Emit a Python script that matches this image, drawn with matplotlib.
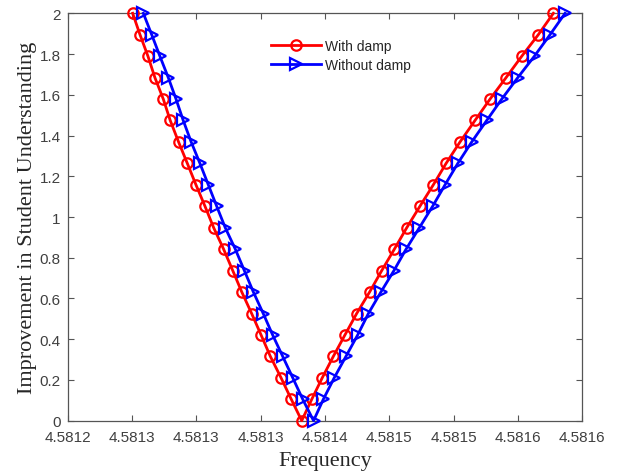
import matplotlib
matplotlib.use("Agg")
import matplotlib.pyplot as plt

# Improvement levels (y) shared by both series: down the left branch, up the right branch
improvement = [2.000, 1.895, 1.789, 1.684, 1.579, 1.474, 1.368, 1.263, 1.158, 1.053,
               0.947, 0.842, 0.737, 0.632, 0.526, 0.421, 0.316, 0.211, 0.105, 0.000,
               0.105, 0.211, 0.316, 0.421, 0.526, 0.632, 0.737, 0.842, 0.947, 1.053,
               1.158, 1.263, 1.368, 1.474, 1.579, 1.684, 1.789, 1.895, 2.000]

freq_with_damp = [4.5812505, 4.5812562, 4.5812624, 4.5812678, 4.5812743, 4.5812797,
                  4.5812862, 4.5812930, 4.5812997, 4.5813067, 4.5813135, 4.5813212,
                  4.5813283, 4.5813353, 4.5813430, 4.5813503, 4.5813575, 4.5813658,
                  4.5813738, 4.5813819,
                  4.5813897, 4.5813979, 4.5814065, 4.5814155, 4.5814246, 4.5814347,
                  4.5814441, 4.5814539, 4.5814635, 4.5814738, 4.5814842, 4.5814941,
                  4.5815049, 4.5815166, 4.5815283, 4.5815407, 4.5815529, 4.5815658,
                  4.5815775]

freq_without_damp = [4.5812588, 4.5812653, 4.5812717, 4.5812782, 4.5812842, 4.5812898,
                     4.5812960, 4.5813028, 4.5813093, 4.5813158, 4.5813225, 4.5813303,
                     4.5813373, 4.5813443, 4.5813520, 4.5813593, 4.5813671, 4.5813749,
                     4.5813827, 4.5813911,
                     4.5813987, 4.5814072, 4.5814163, 4.5814254, 4.5814337, 4.5814435,
                     4.5814536, 4.5814630, 4.5814733, 4.5814837, 4.5814933, 4.5815032,
                     4.5815140, 4.5815257, 4.5815374, 4.5815498, 4.5815627, 4.5815749,
                     4.5815866]

series_labels = ["With damp", "Without damp"]

x_ticks = [4.58120, 4.58125, 4.58130, 4.58135, 4.58140, 4.58145, 4.58150, 4.58155, 4.58160]
x_tick_labels = ["4.5812", "4.5813", "4.5813", "4.5813", "4.5814",
                 "4.5815", "4.5815", "4.5816", "4.5816"]
y_ticks = [0, 0.2, 0.4, 0.6, 0.8, 1.0, 1.2, 1.4, 1.6, 1.8, 2.0]
y_tick_labels = ["0", "0.2", "0.4", "0.6", "0.8", "1", "1.2", "1.4", "1.6", "1.8", "2"]

fig = plt.figure(figsize=(6.18, 4.77), dpi=100)
ax = fig.add_axes([67.7 / 618, 1 - 421.7 / 477, (582.3 - 67.7) / 618, (421.7 - 14.3) / 477])

ax.plot(freq_with_damp, improvement, color="#FF0000", lw=2.0, marker="o", ms=7.5,
        mfc="none", mec="#FF0000", mew=1.6, label=series_labels[0], clip_on=False, zorder=3)
ax.plot(freq_without_damp, improvement, color="#0000FF", lw=2.0, marker=">", ms=8,
        mfc="none", mec="#0000FF", mew=1.6, label=series_labels[1], clip_on=False, zorder=3)

ax.set_xlim(x_ticks[0], x_ticks[-1])
ax.set_ylim(0, 2)
ax.set_xticks(x_ticks)
ax.set_xticklabels(x_tick_labels)
ax.set_yticks(y_ticks)
ax.set_yticklabels(y_tick_labels)

tick_color = "#404040"
for s in ax.spines.values():
    s.set_color("#555555")
    s.set_linewidth(0.9)
ax.tick_params(direction="in", length=4.5, width=0.8, color="#555555",
               top=True, right=True, labelsize=11, labelcolor=tick_color)
ax.tick_params(axis="x", pad=6.5)
ax.tick_params(axis="y", pad=5)
for lbl in ax.get_xticklabels() + ax.get_yticklabels():
    lbl.set_family(["Liberation Sans", "DejaVu Sans"])

ax.set_xlabel("Frequency", family=["Liberation Serif", "DejaVu Serif"], fontsize=16,
              color="#262626", labelpad=5)
ax.set_ylabel("Improvement in Student Understanding", family=["Liberation Serif", "DejaVu Serif"],
              fontsize=16, color="#262626", labelpad=2)

leg = ax.legend(loc="upper left", bbox_to_anchor=(0.396, 0.937), frameon=False,
                borderpad=0, borderaxespad=0, handlelength=3.6, handletextpad=0.25,
                labelspacing=0.35, prop={"family": ["Liberation Sans", "DejaVu Sans"], "size": 10})
for t in leg.get_texts():
    t.set_color("#262626")

fig.savefig("out.png", dpi=100)
